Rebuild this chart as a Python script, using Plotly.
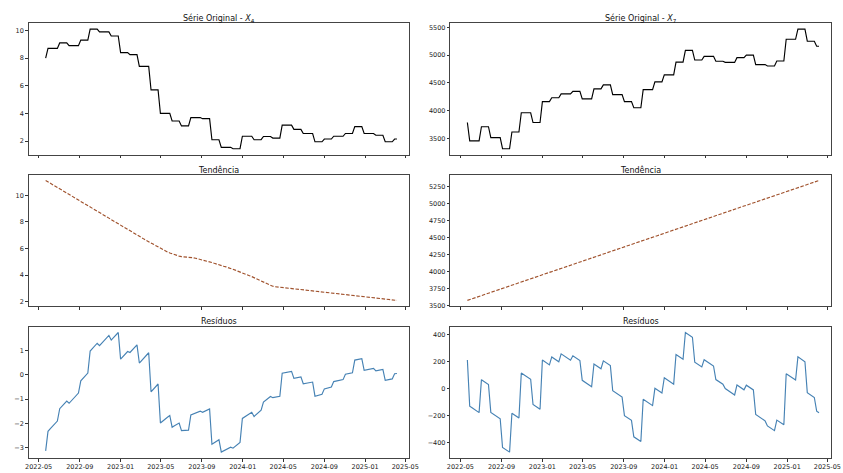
import pandas as pd
import plotly.graph_objects as go

# Weekly observations (weeks labelled by their Sunday)
weeks = pd.date_range("2022-05-22", "2025-04-06", freq="7D")
months = pd.period_range("2022-05", "2025-04", freq="M")

# Monthly levels of each series (held constant through the month's weeks)
x4_monthly = [8.0, 8.7, 9.1, 8.9, 9.3, 10.1, 9.9, 9.6, 8.4, 8.25, 7.4, 5.7,
              4.0, 3.45, 3.1, 3.7, 3.62, 2.1, 1.55, 1.45, 2.35, 2.1, 2.33, 2.22,
              3.15, 2.85, 2.55, 1.95, 2.15, 2.35, 2.55, 3.05, 2.55, 2.42, 1.95, 2.15]
x7_monthly = [3790, 3460, 3715, 3520, 3320, 3620, 3965, 3790, 4165, 4235, 4305, 4350,
              4215, 4395, 4465, 4290, 4165, 4055, 4380, 4520, 4645, 4875, 5085, 4912,
              4978, 4890, 4870, 4955, 5000, 4830, 4805, 4895, 5285, 5468, 5250, 5160]

# Weekly trend estimates
x4_trend = [11.12, 11.02, 10.91, 10.81, 10.70, 10.60, 10.49, 10.39, 10.28, 10.18,
            10.07, 9.97, 9.86, 9.76, 9.65, 9.55, 9.44, 9.34, 9.23, 9.13,
            9.02, 8.92, 8.81, 8.71, 8.60, 8.50, 8.39, 8.29, 8.18, 8.08,
            7.97, 7.87, 7.76, 7.66, 7.55, 7.45, 7.34, 7.24, 7.13, 7.03,
            6.92, 6.82, 6.71, 6.61, 6.50, 6.40, 6.29, 6.19, 6.08,
            5.98, 5.89, 5.81, 5.74, 5.67,
            5.60, 5.54, 5.48, 5.43,
            5.39, 5.38, 5.37, 5.37,
            5.35, 5.31, 5.27, 5.23, 5.19,
            5.16, 5.11, 5.07, 5.02,
            4.95, 4.89, 4.82, 4.76,
            4.72, 4.67, 4.62, 4.57, 4.52,
            4.46, 4.38, 4.30, 4.22,
            4.14, 4.08, 4.02, 3.96, 3.89,
            3.81, 3.72, 3.63, 3.55,
            3.45, 3.37, 3.29, 3.22,
            3.16, 3.13, 3.11, 3.10,
            3.09, 3.07, 3.05, 3.03, 3.01,
            3.00, 2.98, 2.96, 2.94,
            2.92, 2.90, 2.89, 2.87, 2.85,
            2.83, 2.80, 2.78, 2.75,
            2.73, 2.70, 2.68, 2.65,
            2.63, 2.61, 2.59, 2.57, 2.55,
            2.53, 2.51, 2.49, 2.47,
            2.45, 2.43, 2.41, 2.39,
            2.37, 2.35, 2.33, 2.31, 2.29,
            2.26, 2.24, 2.22, 2.20,
            2.18, 2.16, 2.14, 2.12,
            2.11, 2.10]
x7_trend = [3580, 3592, 3603, 3615, 3627, 3639, 3650, 3662, 3674, 3686,
            3697, 3709, 3721, 3733, 3744, 3756, 3768, 3779, 3791, 3803,
            3815, 3826, 3838, 3850, 3862, 3873, 3885, 3897, 3909, 3920,
            3932, 3944, 3955, 3967, 3979, 3991, 4002, 4014, 4026, 4038,
            4049, 4061, 4073, 4085, 4096, 4108, 4120, 4131, 4143, 4155,
            4167, 4178, 4190, 4202, 4214, 4225, 4237, 4249, 4261, 4272,
            4284, 4296, 4307, 4319, 4331, 4343, 4354, 4366, 4378, 4390,
            4401, 4413, 4425, 4437, 4448, 4460, 4472, 4483, 4495, 4507,
            4519, 4530, 4542, 4554, 4566, 4577, 4589, 4601, 4613, 4624,
            4636, 4648, 4659, 4671, 4683, 4695, 4706, 4718, 4730, 4742,
            4753, 4765, 4777, 4789, 4800, 4812, 4824, 4835, 4847, 4859,
            4871, 4882, 4894, 4906, 4918, 4929, 4941, 4953, 4965, 4976,
            4988, 5000, 5011, 5023, 5035, 5047, 5058, 5070, 5082, 5094,
            5105, 5117, 5129, 5141, 5152, 5164, 5176, 5187, 5199, 5211,
            5223, 5234, 5246, 5258, 5270, 5281, 5293, 5305, 5317, 5328,
            5340]

# Expand monthly levels onto the weekly index (month of the week's midpoint)
week_month = (weeks + pd.Timedelta(days=3)).to_period("M")
x4_by_month = dict(zip(months, x4_monthly))
x7_by_month = dict(zip(months, x7_monthly))
x4 = [x4_by_month[m] for m in week_month]
x7 = [x7_by_month[m] for m in week_month]

# Residual = series - trend
x4_resid = [round(o - t, 3) for o, t in zip(x4, x4_trend)]
x7_resid = [round(o - t, 1) for o, t in zip(x7, x7_trend)]

W, H = 843, 473
FONT = "DejaVu Sans"

col_px = [(26, 412), (454.3, 840.7)]
row_px = [(23.3, 156), (176, 309), (329.3, 462)]


def xdom(c):
    a, b = col_px[c]
    return [a / W, b / W]


def ydom(r):
    t, b = row_px[r]
    return [1 - b / H, 1 - t / H]


def padded(vals, frac=0.05):
    lo, hi = min(vals), max(vals)
    p = (hi - lo) * frac
    return [lo - p, hi + p]


# Shared date window for every panel
xr = [weeks[0] - pd.Timedelta(days=51), weeks[-1] + pd.Timedelta(days=35)]

fig = go.Figure()

panels = [
    # (row, col, y, color, dash, tick0, dtick)
    (0, 0, x4, "black", "solid", 2, 2),
    (0, 1, x7, "black", "solid", 3500, 500),
    (1, 0, x4_trend, "#a0522d", "3.5px,1.6px", 2, 2),
    (1, 1, x7_trend, "#a0522d", "3.5px,1.6px", 3500, 250),
    (2, 0, x4_resid, "#4682b4", "solid", -3, 1),
    (2, 1, x7_resid, "#4682b4", "solid", -400, 200),
]

for k, (r, c, yv, color, dash, t0, dt) in enumerate(panels, start=1):
    sfx = "" if k == 1 else str(k)
    fig.add_trace(go.Scatter(
        x=weeks, y=yv, mode="lines",
        line=dict(color=color, width=1.15, dash=dash),
        xaxis="x" + sfx, yaxis="y" + sfx, showlegend=False,
    ))
    axis_common = dict(
        showline=True, mirror=True, linecolor="#444", linewidth=1,
        ticks="outside", ticklen=2.5, tickwidth=0.8, tickcolor="#333",
        showgrid=False, zeroline=False,
        tickfont=dict(family=FONT, size=6.5, color="#222"),
    )
    fig.layout["xaxis" + sfx] = dict(
        axis_common, domain=xdom(c), anchor="y" + sfx, type="date",
        range=xr, tick0="2022-05-01", dtick="M4", tickformat="%Y-%m",
        showticklabels=(r == 2),
    )
    fig.layout["yaxis" + sfx] = dict(
        axis_common, domain=ydom(r), anchor="x" + sfx,
        range=padded(yv), tick0=t0, dtick=dt,
    )

titles = [
    (0, 0, "Série Original - <i>X</i><sub>4</sub>"),
    (0, 1, "Série Original - <i>X</i><sub>7</sub>"),
    (1, 0, "Tendência"), (1, 1, "Tendência"),
    (2, 0, "Resíduos"), (2, 1, "Resíduos"),
]
for r, c, txt in titles:
    d = xdom(c)
    fig.add_annotation(
        text=txt, xref="paper", yref="paper",
        x=(d[0] + d[1]) / 2, y=ydom(r)[1] + 5 / H,
        xanchor="center", yanchor="middle", showarrow=False,
        borderpad=0,
        font=dict(family=FONT, size=8, color="#111"),
    )

fig.update_layout(
    width=W, height=H, margin=dict(l=0, r=0, t=0, b=0),
    paper_bgcolor="white", plot_bgcolor="white",
    font=dict(family=FONT),
)

fig.write_html("out.html")
